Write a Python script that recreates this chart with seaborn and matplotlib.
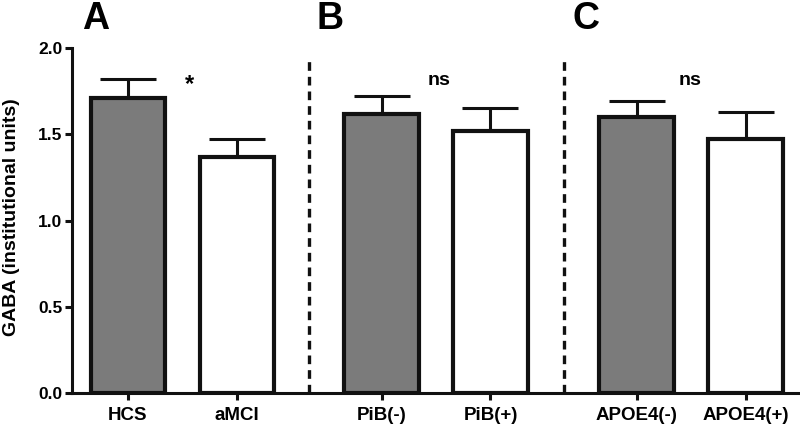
import matplotlib
matplotlib.use("Agg")
import matplotlib.pyplot as plt
import numpy as np
import pandas as pd
import seaborn as sns

# values
groups     = ["HCS", "aMCI", "PiB(-)", "PiB(+)", "APOE4(-)", "APOE4(+)"]
gaba_mean  = [1.71, 1.37, 1.62, 1.52, 1.60, 1.47]
gaba_sem   = [0.11, 0.10, 0.10, 0.13, 0.09, 0.16]
fill_kind  = ["control", "patient", "control", "patient", "control", "patient"]
panels     = ["A", "B", "C"]
sig_labels = ["*", "ns", "ns"]

# layout: two bars per panel, wider gap between panels
x_pos = [0.0, 1.0, 2.33, 3.33, 4.67, 5.67]
dividers = [(x_pos[1] + x_pos[2]) / 2, (x_pos[3] + x_pos[4]) / 2]

sns.set_style("ticks")
plt.rcParams["font.family"] = ["Liberation Sans", "DejaVu Sans"]
plt.rcParams["font.weight"] = "bold"
plt.rcParams["text.color"] = "black"
plt.rcParams["axes.labelcolor"] = "black"

df = pd.DataFrame({"x": x_pos, "gaba": gaba_mean, "kind": fill_kind})

fig = plt.figure(figsize=(8, 4.25), dpi=100)
ax = fig.add_axes([0.09, 0.0753, 0.91, 0.8117])

# error bars (upper only), drawn behind the bars
ax.errorbar(x_pos, gaba_mean, yerr=[np.zeros(len(gaba_sem)), gaba_sem],
            fmt="none", ecolor="#111111", elinewidth=2.2, capsize=20,
            capthick=2.2, zorder=1)

sns.barplot(data=df, x="x", y="gaba", hue="kind", native_scale=True,
            dodge=False, width=0.68, errorbar=None, legend=False,
            palette={"control": "#7b7b7b", "patient": "white"},
            edgecolor="#111111", linewidth=3.0, ax=ax, zorder=2)

for d in dividers:
    ax.plot([d, d], [0, 1.94], color="#111111", lw=2.4,
            linestyle=(0, (2.6, 1.8)), zorder=3, clip_on=False)

# significance markers
ax.text(0.57, 1.79, sig_labels[0], ha="center", va="center",
        fontsize=17, fontweight="bold")
ax.text(2.86, 1.81, sig_labels[1], ha="center", va="center",
        fontsize=14, fontweight="bold")
ax.text(5.16, 1.81, sig_labels[2], ha="center", va="center",
        fontsize=14, fontweight="bold")

# panel letters
for lab, xp in zip(panels, [96, 330, 586]):
    fig.text(xp / 800, 1 - 19 / 425, lab, ha="center", va="center",
             fontsize=27, fontweight="bold")

ax.set_xlim(-0.51, 6.17)
ax.set_ylim(0, 2.0)
ax.set_yticks([0.0, 0.5, 1.0, 1.5, 2.0])
ax.set_yticklabels(["0.0", "0.5", "1.0", "1.5", "2.0"])
ax.set_xticks(x_pos)
ax.set_xticklabels(groups)
ax.set_xlabel("")
ax.set_ylabel("GABA (institutional units)", fontsize=14, fontweight="bold",
              color="black")
ax.yaxis.set_label_coords(-0.072, 0.51)

for s in ["top", "right"]:
    ax.spines[s].set_visible(False)
for s in ["left", "bottom"]:
    ax.spines[s].set_linewidth(2.2)
    ax.spines[s].set_color("#111111")
ax.tick_params(axis="both", width=2.2, length=5, color="#111111",
               labelcolor="black")
ax.tick_params(axis="y", labelsize=12.5, pad=2)
ax.tick_params(axis="x", labelsize=13.5, pad=5)
for t in ax.get_xticklabels() + ax.get_yticklabels():
    t.set_fontweight("bold")

fig.savefig("out.png", dpi=100)
